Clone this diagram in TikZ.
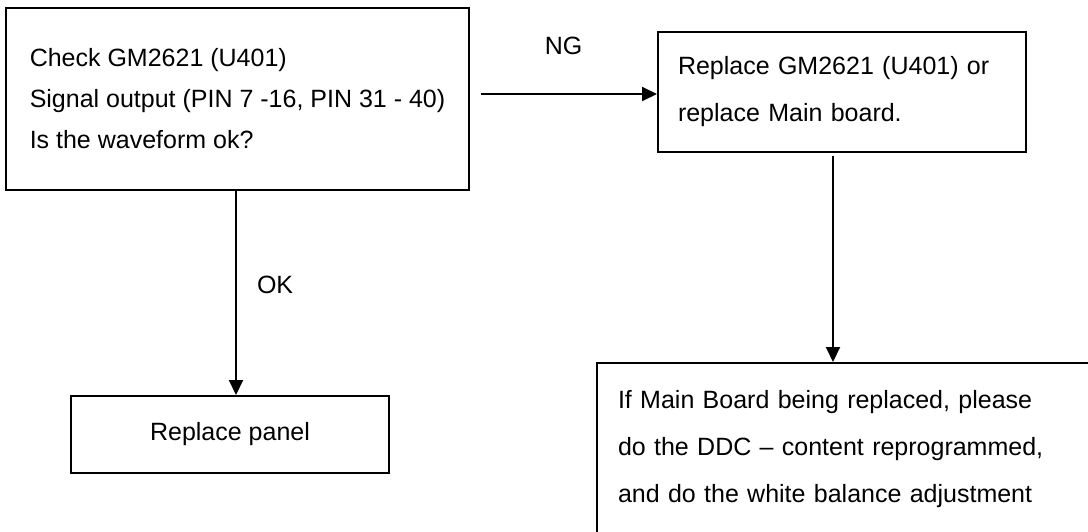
\documentclass[tikz,border=0pt]{standalone}
\usepackage{fontspec}
\setmainfont{Liberation Sans}
\usetikzlibrary{arrows.meta}
\tikzset{
  stepbox/.style={draw=black,line width=1pt,align=left,inner ysep=0pt},
  tightbox/.style={stepbox,font=\fontsize{12.5pt}{20.5pt}\selectfont},
  widebox/.style={stepbox,font=\fontsize{12.5pt}{23.5pt}\selectfont},
  flow/.style={-{Triangle[length=7.5pt,width=7pt]},line width=1pt,draw=black},
  tag/.style={font=\fontsize{12.5pt}{15pt}\selectfont,inner sep=0pt}
}
\begin{document}
\begin{tikzpicture}[x=0.5pt,y=-0.5pt]
  \useasboundingbox (0,0) rectangle (1088,531);
  \clip (0,0) rectangle (1088,531);
  \node[tightbox,minimum width=231.5pt,minimum height=91pt] (check) at (237.5,99)
    {Check GM2621 (U401)\\Signal output (PIN 7 -16, PIN 31 - 40)\\Is the waveform ok?};
  \node[widebox,text width=164pt,inner xsep=10pt,minimum height=60pt] (fix) at (842,92)
    {Replace GM2621 (U401) or\\replace Main board.};
  \node[widebox,align=center,minimum width=159pt,minimum height=38.5pt] (panel) at (230,434.5)
    {Replace panel};
  \node[widebox,anchor=north west,text width=300pt,inner xsep=10.5pt,inner ysep=13.5pt] (reprog) at (596,362)
    {If Main Board being replaced, please\\do the DDC -- content reprogrammed,\\and do the white balance adjustment\\[60pt]\mbox{}};
  \draw[flow,shorten <=5.5pt] ([yshift=2.5pt]check.east) -- node[tag,above=19pt]{NG} ([yshift=2.5pt]check.east -| fix.west);
  \draw[flow] ([xshift=-0.75pt]check.south) -- node[tag,right=10pt,pos=0.46]{OK} ([xshift=-0.75pt]check.south |- panel.north);
  \draw[flow,shorten <=1.5pt] ([xshift=-4.5pt]fix.south) -- ([xshift=-4.5pt]fix.south |- reprog.north);
\end{tikzpicture}
\end{document}
